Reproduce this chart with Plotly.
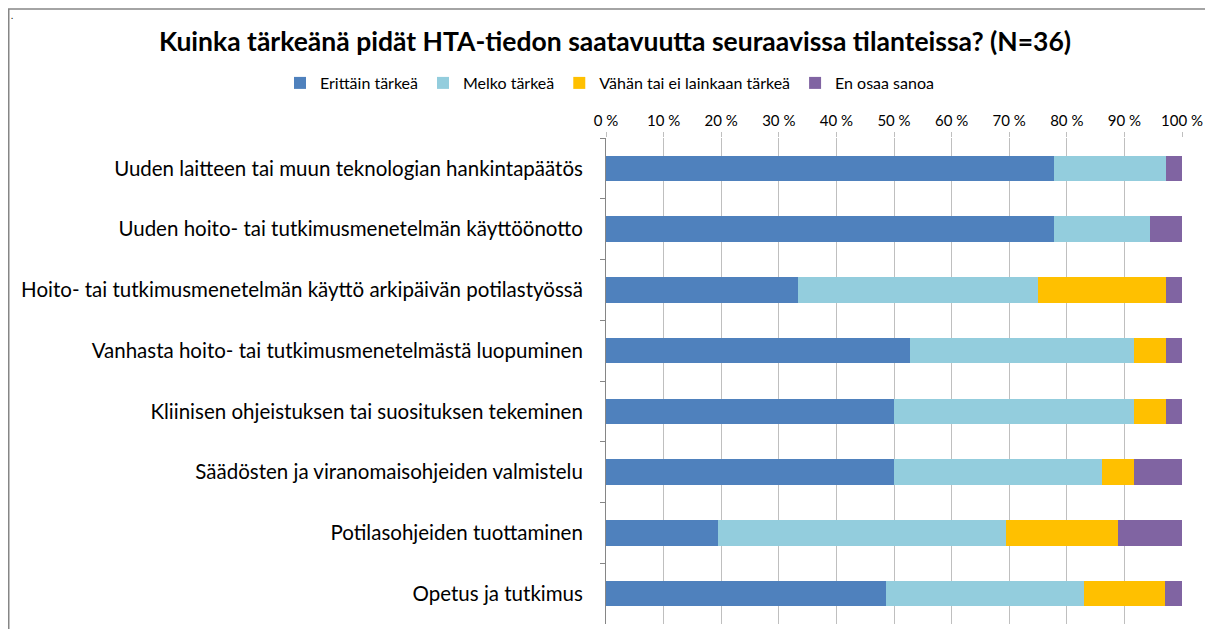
import plotly.graph_objects as go

categories = [
    "Uuden laitteen tai muun teknologian hankintapäätös",
    "Uuden hoito- tai tutkimusmenetelmän käyttöönotto",
    "Hoito- tai tutkimusmenetelmän käyttö arkipäivän potilastyössä",
    "Vanhasta hoito- tai tutkimusmenetelmästä luopuminen",
    "Kliinisen ohjeistuksen tai suosituksen tekeminen",
    "Säädösten ja viranomaisohjeiden valmistelu",
    "Potilasohjeiden tuottaminen",
    "Opetus ja tutkimus",
]
series_names = ["Erittäin tärkeä", "Melko tärkeä", "Vähän tai ei lainkaan tärkeä", "En osaa sanoa"]
erittain = [77.8, 77.8, 33.3, 52.8, 50.0, 50.0, 19.4, 48.6]
melko = [19.4, 16.6, 41.7, 38.9, 41.6, 36.1, 50.0, 34.3]
vahan = [0.0, 0.0, 22.2, 5.5, 5.6, 5.6, 19.5, 14.2]
en_osaa = [2.8, 5.6, 2.8, 2.8, 2.8, 8.3, 11.1, 2.9]
tick_vals = [0, 10, 20, 30, 40, 50, 60, 70, 80, 90, 100]
tick_text = ["0 %", "10 %", "20 %", "30 %", "40 %", "50 %", "60 %", "70 %", "80 %", "90 %", "100 %"]
colors = ["#4F81BD", "#93CDDD", "#FFC000", "#8064A2"]

# page body has an 8px margin; work in figure pixel coordinates
OFF = 8
W, H = 1213 - OFF, 629 - OFF
L = 606 - OFF
R = W - (1182 - OFF)
T = 138 - OFF
B = H - (624 - OFF)
pw, ph = W - L - R, H - T - B

def px_x(p):
    return (p - OFF - L) / pw

def px_y(p):
    return (H - B - (p - OFF)) / ph

FONT = "Lato"

fig = go.Figure()
for name, vals, col in zip(series_names, [erittain, melko, vahan, en_osaa], colors):
    fig.add_trace(go.Bar(
        y=categories, x=vals, name=name, orientation="h",
        marker=dict(color=col, line=dict(width=0)),
    ))

fig.update_layout(
    barmode="stack",
    bargap=0.58,
    width=W, height=H,
    margin=dict(l=L, r=R, t=T, b=B, autoexpand=False),
    paper_bgcolor="white", plot_bgcolor="white",
    font=dict(family=FONT, color="#000000"),
    title=dict(
        text="<b>Kuinka tärkeänä pidät HTA-tiedon saatavuutta seuraavissa tilanteissa? (N=36)</b>",
        x=(615 - OFF) / W, xanchor="center", y=1 - (42 - OFF) / H, yanchor="middle",
        font=dict(size=26.5, family=FONT, color="#000000"),
    ),
    legend=dict(
        orientation="h", x=px_x(280), xanchor="left", y=px_y(83), yanchor="middle",
        font=dict(size=16, family=FONT), traceorder="normal",
        itemwidth=30, bgcolor="rgba(0,0,0,0)",
    ),
    xaxis=dict(
        side="top", range=[0, 100], tickvals=tick_vals, ticktext=tick_text,
        showgrid=True, gridcolor="#BFBFBF", gridwidth=1,
        ticks="outside", ticklen=5, tickcolor="#BFBFBF",
        showline=False, zeroline=False,
        tickfont=dict(size=15, family=FONT),
        fixedrange=True,
    ),
    yaxis=dict(
        autorange="reversed", showline=True, linecolor="#868686", linewidth=1,
        ticks="outside", ticklen=5, tickcolor="#868686", tickson="boundaries",
        tickfont=dict(size=20.5, family=FONT), ticklabelstandoff=18,
        showgrid=False, fixedrange=True,
    ),
    showlegend=True,
)

fig.add_shape(
    type="rect", xref="paper", yref="paper",
    x0=px_x(OFF + 0.75), x1=px_x(1210), y0=px_y(660), y1=px_y(9),
    line=dict(color="#868686", width=1.5), fillcolor="rgba(0,0,0,0)", layer="below",
)
fig.add_annotation(
    text=".", xref="paper", yref="paper", x=px_x(OFF + 1), y=px_y(OFF),
    showarrow=False, font=dict(size=9, family=FONT), xanchor="left", yanchor="top",
)

fig.write_html("out.html")
